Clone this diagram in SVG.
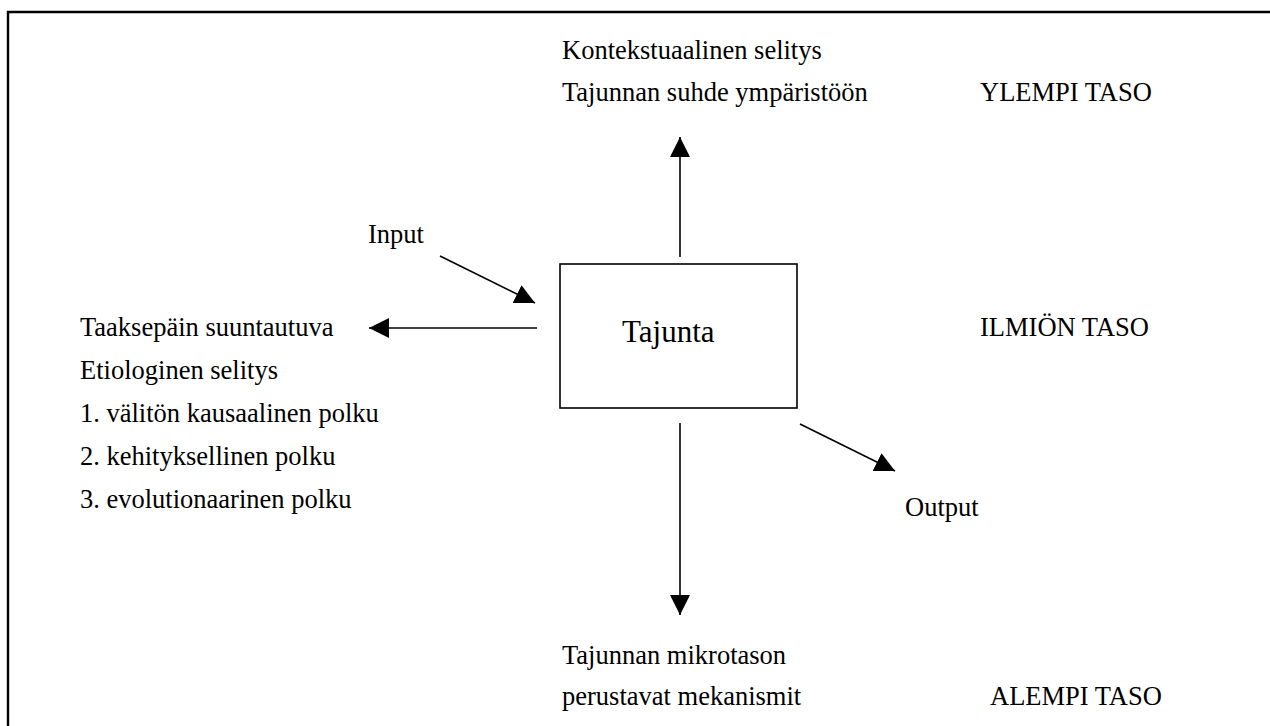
<svg xmlns="http://www.w3.org/2000/svg" width="1270" height="726" viewBox="0 0 1270 726">
<style>
text{font-family:"Liberation Serif","Times New Roman",serif;font-size:26.5px;fill:#000}
.c{stroke:#000;stroke-width:1.6;fill:none;marker-end:url(#ah)}
</style>
<defs>
<marker id="ah" markerUnits="userSpaceOnUse" viewBox="0 0 20 20" markerWidth="20" markerHeight="20" refX="20" refY="10" orient="auto"><path d="M0,0 L20,10 L0,20 z" fill="#000"/></marker>
</defs>
<rect width="1270" height="726" fill="#fff"/>
<path d="M8,727 V12 H1271" fill="none" stroke="#000" stroke-width="2.4"/>
<g id="connectors">
<line class="c" x1="680" y1="257" x2="680" y2="137"/>
<line class="c" x1="680" y1="423" x2="680" y2="615"/>
<line class="c" x1="537" y1="328" x2="369" y2="328"/>
<line class="c" x1="440" y1="256" x2="535" y2="303"/>
<line class="c" x1="800" y1="424" x2="895" y2="471"/>
</g>
<g id="tajunta">
<rect x="560" y="264" width="237" height="144" fill="#fff" stroke="#000" stroke-width="1.6"/>
<text x="622" y="342" style="font-size:31px">Tajunta</text>
</g>
<g id="ylempi">
<text x="562" y="59">Kontekstuaalinen selitys</text>
<text x="562" y="101">Tajunnan suhde ympäristöön</text>
</g>
<g id="ylempi-taso"><text x="980" y="101">YLEMPI TASO</text></g>
<g id="input"><text x="368" y="243">Input</text></g>
<g id="etiologinen">
<text x="80" y="336">Taaksepäin suuntautuva</text>
<text x="80" y="379">Etiologinen selitys</text>
<text x="80" y="422">1. välitön kausaalinen polku</text>
<text x="80" y="465">2. kehityksellinen polku</text>
<text x="80" y="508">3. evolutionaarinen polku</text>
</g>
<g id="ilmion-taso"><text x="980" y="336">ILMIÖN TASO</text></g>
<g id="output"><text x="905" y="516">Output</text></g>
<g id="alempi">
<text x="562" y="664">Tajunnan mikrotason</text>
<text x="562" y="705">perustavat mekanismit</text>
</g>
<g id="alempi-taso"><text x="990" y="705">ALEMPI TASO</text></g>
</svg>
